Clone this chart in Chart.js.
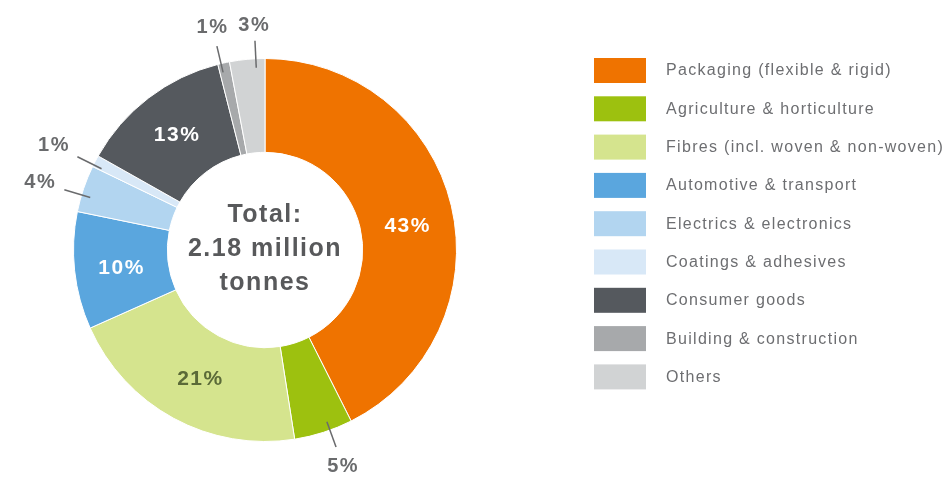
<!DOCTYPE html>
<html>
<head>
<meta charset="utf-8">
<script src="https://cdn.jsdelivr.net/npm/chart.js@4/dist/chart.umd.min.js"></script>
<style>
  html, body { margin: 0; padding: 0; background: #ffffff; }
  #wrap { width: 950px; height: 484px; position: relative; }
</style>
</head>
<body>
<div id="wrap"><canvas id="c" width="950" height="484"></canvas></div>
<script>
// ---- data ----
const categories = [
  "Packaging (flexible & rigid)",
  "Agriculture & horticulture",
  "Fibres (incl. woven & non-woven)",
  "Automotive & transport",
  "Electrics & electronics",
  "Coatings & adhesives",
  "Consumer goods",
  "Building & construction",
  "Others"
];
const shares = [43, 5, 21, 10, 4, 1, 13, 1, 3];
const centreText = ["Total:", "2.18 million", "tonnes"];

// ---- styles ----
const sliceColors = ["#ef7300", "#9dc10f", "#d5e48e", "#5aa6de", "#b2d5f0", "#d8e8f7", "#55595e", "#a7a9ab", "#d1d3d4"];
const insideLabelColors = ["#ffffff", null, "#5b6a38", "#ffffff", null, null, "#ffffff", null, null];
// small angular nudges (degrees) for label placement, relative to slice middle
const labelAngleNudge = [4, -2, -2, -1, -2, -1.2, 0, -0.8, 2.6];
const greyText = "#6a6b6d";

const labelPlugin = {
  id: "sliceLabels",
  afterDatasetsDraw(chart) {
    const ctx = chart.ctx;
    const meta = chart.getDatasetMeta(0);
    ctx.save();
    ctx.textAlign = "center";
    ctx.textBaseline = "middle";
    meta.data.forEach((arc, i) => {
      const p = arc.getProps(["x", "y", "startAngle", "endAngle", "innerRadius", "outerRadius"], true);
      const mid = (p.startAngle + p.endAngle) / 2 + labelAngleNudge[i] * Math.PI / 180;
      const c = Math.cos(mid), s = Math.sin(mid);
      const txt = shares[i] + "%";
      if (shares[i] >= 10) {
        const r = (p.innerRadius + p.outerRadius) / 2;
        ctx.font = "bold 21px 'Liberation Sans', Arial, sans-serif";
        ctx.letterSpacing = "1.5px";
        ctx.fillStyle = insideLabelColors[i];
        ctx.fillText(txt, p.x + r * c, p.y + r * s);
      } else {
        ctx.strokeStyle = greyText;
        ctx.lineWidth = 1.5;
        const r0 = p.outerRadius - 9, r1 = p.outerRadius + 18;
        ctx.beginPath();
        ctx.moveTo(p.x + r0 * c, p.y + r0 * s);
        ctx.lineTo(p.x + r1 * c, p.y + r1 * s);
        ctx.stroke();
        ctx.font = "bold 20px 'Liberation Sans', Arial, sans-serif";
        ctx.letterSpacing = "1.5px";
        const w = ctx.measureText(txt).width, h = 15;
        const d = Math.abs(c) * (w / 2 + 6) + Math.abs(s) * (h / 2 + 7);
        const r = r1 + d;
        ctx.fillStyle = greyText;
        ctx.fillText(txt, p.x + r * c, p.y + r * s);
      }
    });
    // centre text
    const cx = meta.data[0].x, cy = meta.data[0].y;
    ctx.font = "bold 25px 'Liberation Sans', Arial, sans-serif";
    ctx.letterSpacing = "1.5px";
    ctx.fillStyle = "#58595b";
    centreText.forEach((t, k) => {
      ctx.fillText(t, cx, cy - 35 + k * 34);
    });
    ctx.restore();
  }
};

const legendPlugin = {
  id: "sideLegend",
  afterDraw(chart) {
    const ctx = chart.ctx;
    const labels = chart.data.labels;
    const colors = chart.data.datasets[0].backgroundColor;
    ctx.save();
    ctx.textAlign = "left";
    ctx.textBaseline = "middle";
    ctx.font = "16px 'Liberation Sans', Arial, sans-serif";
    ctx.letterSpacing = "1.3px";
    labels.forEach((lab, i) => {
      const top = 58 + i * 38.3;
      ctx.fillStyle = colors[i];
      ctx.fillRect(594, top, 52, 25);
      ctx.fillStyle = "#6d6e71";
      ctx.fillText(lab, 666, top + 13);
    });
    ctx.restore();
  }
};

new Chart(document.getElementById("c"), {
  type: "doughnut",
  data: {
    labels: categories,
    datasets: [{
      data: shares,
      backgroundColor: sliceColors,
      borderColor: "#ffffff",
      borderWidth: 1
    }]
  },
  options: {
    responsive: false,
    devicePixelRatio: 1,
    animation: false,
    cutout: "51%",
    layout: { padding: { left: 73, top: 58, right: 493, bottom: 42 } },
    plugins: {
      legend: { display: false },
      tooltip: { enabled: false },
      title: { display: false }
    }
  },
  plugins: [labelPlugin, legendPlugin]
});
</script>
</body>
</html>
